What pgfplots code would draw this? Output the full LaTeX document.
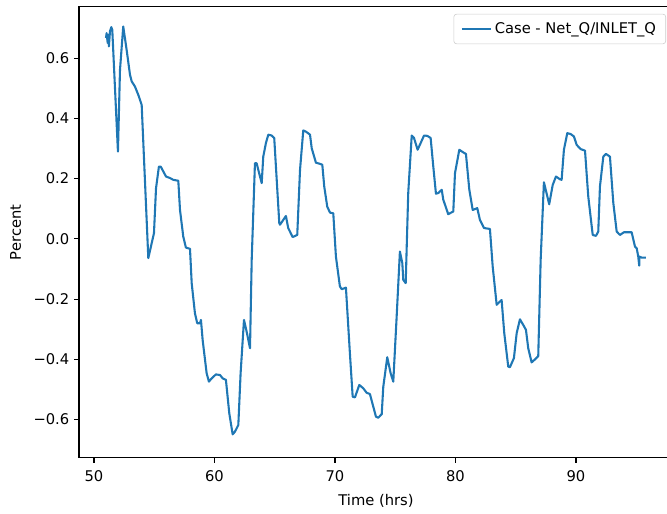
\documentclass[border=0pt]{standalone}
\usepackage{pgfplots}
\pgfplotsset{compat=1.18}
\usepackage{fontspec}
\setmainfont{DejaVu Sans}
\definecolor{mplblue}{HTML}{1F77B4}
\begin{document}
\begin{tikzpicture}
\begin{axis}[
  at={(0,0)}, anchor=south west,
  scale only axis,
  width=427.7pt, height=324.7pt,
  xmin=48.76, xmax=98.05,
  ymin=-0.727, ymax=0.770,
  axis line style={line width=0.8pt, black},
  tick align=outside,
  tick style={line width=0.8pt, black},
  major tick length=3.5pt,
  xtick={50,60,70,80,90},
  ytick={-0.6,-0.4,-0.2,0,0.2,0.4,0.6},
  yticklabels={−0.6,−0.4,−0.2,0.0,0.2,0.4,0.6},
  xtick pos=bottom, ytick pos=left,
  /pgf/number format/assume math mode=true,
  tick label style={font=\fontsize{10.6}{12.7}\selectfont},
  xticklabel style={yshift=-2pt},
  label style={font=\fontsize{10.6}{12.7}\selectfont},
  xlabel={Time (hrs)},
  xlabel style={yshift=-2pt},
  ylabel={Percent},
  ylabel style={yshift=2pt},
  title={Net\_Q/INLET\_Q},
  title style={at={(0.5,1)}, anchor=base, yshift=6.5pt, font=\fontsize{12.7}{15}\selectfont},
  legend style={at={(1,1)}, anchor=north east, xshift=-5pt, yshift=-5pt,
    draw=black!20, rounded corners=2pt, font=\fontsize{10.6}{12.7}\selectfont,
    inner xsep=5pt, inner ysep=4pt},
  legend cell align=left,
  legend image code/.code={\draw[#1] (0pt,0pt) -- (21pt,0pt);},
]
\addplot[mplblue, line width=1.5pt, line join=round] coordinates {
(51.00,0.667) (51.05,0.683) (51.14,0.650) (51.19,0.678) (51.24,0.639)
(51.33,0.689) (51.44,0.703) (51.52,0.694) (51.99,0.290) (52.16,0.561)
(52.43,0.705) (52.71,0.628) (52.99,0.545) (53.13,0.523) (53.40,0.506)
(53.68,0.478) (53.96,0.445) (54.51,-0.064) (54.98,0.019) (55.15,0.168)
(55.39,0.240) (55.54,0.240) (55.98,0.207) (56.31,0.202) (56.58,0.196)
(57.00,0.193) (57.14,0.096) (57.41,0.008) (57.63,-0.029) (57.97,-0.033)
(58.11,-0.147) (58.38,-0.247) (58.57,-0.280) (58.80,-0.280) (58.88,-0.269)
(59.02,-0.336) (59.35,-0.446) (59.54,-0.474) (59.77,-0.463) (60.12,-0.450)
(60.46,-0.452) (60.68,-0.463) (60.95,-0.468) (61.23,-0.579) (61.51,-0.649)
(61.70,-0.640) (61.98,-0.618) (62.17,-0.446) (62.45,-0.269) (62.67,-0.308)
(62.95,-0.363) (63.09,-0.070) (63.36,0.251) (63.50,0.251) (63.92,0.185)
(64.05,0.273) (64.27,0.318) (64.47,0.346) (64.75,0.343) (64.96,0.335)
(65.38,0.052) (65.44,0.047) (65.71,0.063) (65.93,0.076) (66.12,0.036)
(66.49,0.006) (66.87,0.013) (67.10,0.229) (67.37,0.360) (67.59,0.356)
(67.93,0.346) (68.07,0.301) (68.42,0.253) (68.76,0.249) (68.95,0.246)
(69.11,0.174) (69.36,0.107) (69.59,0.087) (69.86,0.085) (70.08,-0.059)
(70.41,-0.158) (70.56,-0.167) (70.91,-0.162) (71.24,-0.380) (71.47,-0.524)
(71.66,-0.526) (72.02,-0.485) (72.35,-0.496) (72.63,-0.511) (72.90,-0.515)
(73.40,-0.590) (73.59,-0.594) (73.88,-0.582) (74.01,-0.491) (74.34,-0.393)
(74.62,-0.446) (74.84,-0.474) (75.12,-0.258) (75.39,-0.042) (75.59,-0.081)
(75.67,-0.136) (75.87,-0.147) (76.08,0.152) (76.37,0.343) (76.56,0.335)
(76.86,0.296) (77.11,0.318) (77.39,0.343) (77.66,0.342) (77.94,0.335)
(78.16,0.240) (78.38,0.150) (78.57,0.152) (78.86,0.163) (78.99,0.130)
(79.40,0.082) (79.54,0.085) (79.82,0.091) (79.96,0.218) (80.32,0.296)
(80.65,0.287) (80.87,0.282) (81.15,0.163) (81.43,0.096) (81.81,0.102)
(82.03,0.063) (82.37,0.036) (82.86,0.033) (83.09,-0.092) (83.42,-0.219)
(83.69,-0.208) (83.83,-0.203) (84.05,-0.313) (84.38,-0.424) (84.52,-0.426)
(84.85,-0.396) (85.08,-0.313) (85.35,-0.267) (85.63,-0.286) (85.85,-0.302)
(86.04,-0.363) (86.32,-0.410) (86.60,-0.400) (86.87,-0.389) (87.07,-0.070)
(87.34,0.188) (87.78,0.115) (88.07,0.179) (88.34,0.207) (88.67,0.198)
(88.81,0.196) (89.00,0.296) (89.28,0.351) (89.56,0.348) (89.83,0.340)
(90.06,0.312) (90.39,0.298) (90.75,0.293) (91.02,0.141) (91.39,0.013)
(91.66,0.010) (91.85,0.024) (91.99,0.174) (92.27,0.273) (92.49,0.282)
(92.82,0.273) (93.10,0.119) (93.38,0.024) (93.65,0.013) (93.98,0.022)
(94.62,0.022) (94.90,-0.026) (95.04,-0.031) (95.17,-0.059) (95.25,-0.089)
(95.26,-0.059) (95.45,-0.062) (95.81,-0.062)
};
\addlegendentry{Case - Net\_Q/INLET\_Q}
\end{axis}
\pgfresetboundingbox
\path[use as bounding box] (-56.9pt,-40.3pt) rectangle (423.4pt,329.7pt);
\end{tikzpicture}
\end{document}
